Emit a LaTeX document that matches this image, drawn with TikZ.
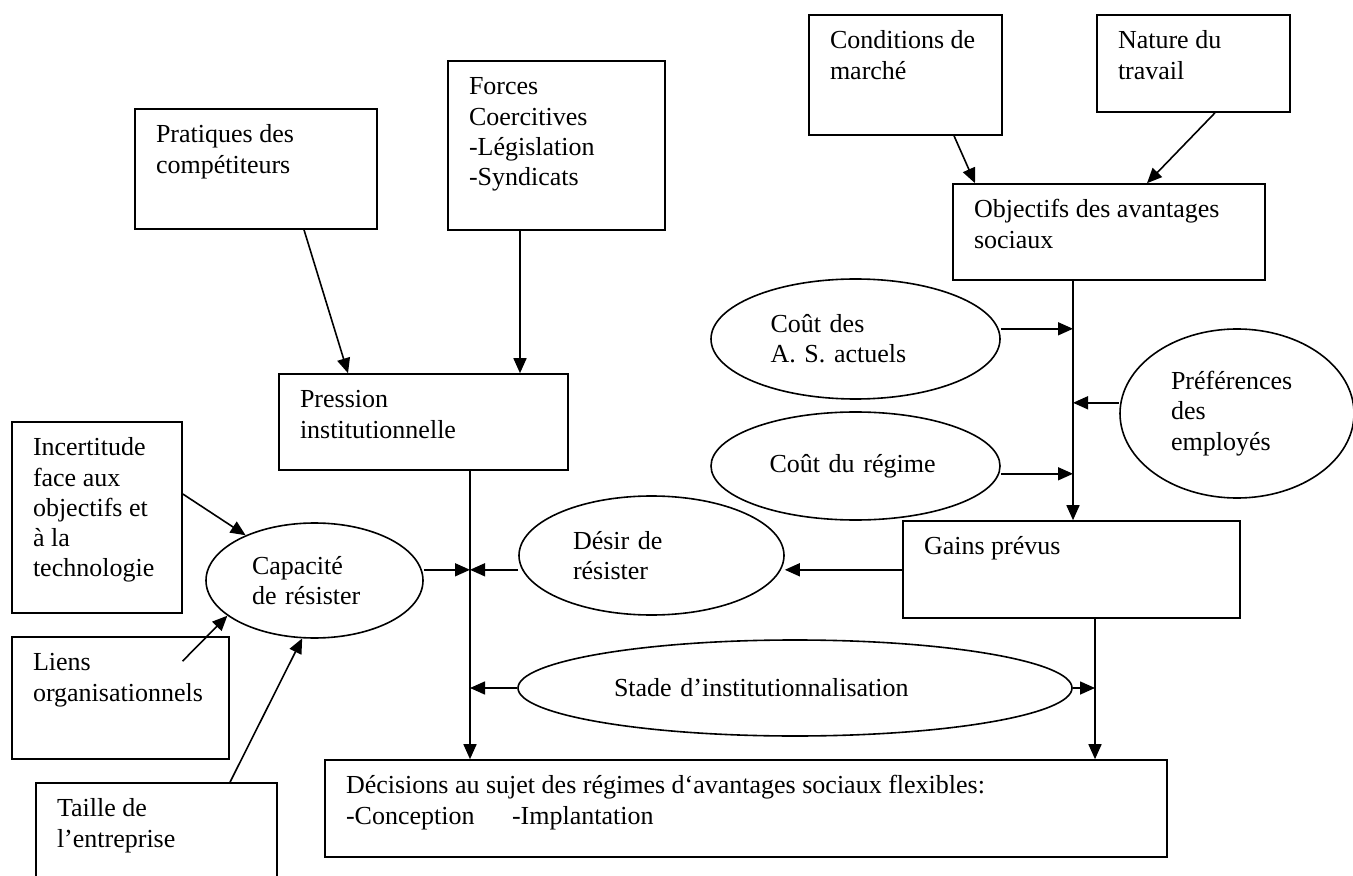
\documentclass[tikz,border=0pt]{standalone}
\usepackage{fontspec}
\setmainfont{Liberation Serif}
\usetikzlibrary{shapes.geometric,arrows.meta,calc}
\newcommand{\boxtxt}[3]{\parbox[c][\dimexpr#2pt/2-12.8pt\relax][t]{\dimexpr#1pt/2-21pt\relax}{\hyphenpenalty=10000\raggedright\strut#3}}
\begin{document}
\begin{tikzpicture}[x=0.5pt,y=-0.5pt,
		every node/.style={font=\fontsize{13pt}{15.1pt}\selectfont},
		box/.style={rectangle,draw,line width=0.8pt,inner xsep=10.5pt,inner ysep=6.4pt},
		ell/.style={ellipse,draw,line width=0.8pt,inner sep=0pt,align=left},
		flow/.style={line width=0.8pt,-{Triangle[length=7.5pt,width=6.5pt]}}]
				\useasboundingbox (0,0) rectangle (1353,876);
				
				\node[box] (prat) at (256,169) {\boxtxt{242}{120}{Pratiques des\\compétiteurs}};
				\node[box] (forces) at (556.5,145.5) {\boxtxt{217}{169}{Forces\\Coercitives\\-Législation\\-Syndicats}};
				\node[box] (cond) at (905.5,75) {\boxtxt{193}{120}{Conditions de\\marché}};
				\node[box] (nature) at (1193.5,63.5) {\boxtxt{193}{97}{Nature du\\travail}};
				\node[box] (objectifs) at (1109,232) {\boxtxt{312}{96}{Objectifs des avantages\\sociaux}};
				\node[box] (pression) at (423.5,422) {\boxtxt{289}{96}{Pression\\institutionnelle}};
				\node[box] (incert) at (97,517.5) {\boxtxt{170}{191}{Incertitude\\face aux\\objectifs et\\à la\\technologie}};
				\node[box] (liens) at (120.5,698) {\boxtxt{217}{122}{Liens\\organisationnels}};
				\node[box] (taille) at (156.5,831.5) {\boxtxt{241}{97}{Taille de\\l’entreprise}};
				\node[box] (gains) at (1071.5,569.5) {\boxtxt{337}{97}{Gains prévus}};
				\node[box] (decis) at (746,808.5) {\boxtxt{842}{97}{Décisions au sujet des régimes d‘avantages sociaux flexibles:\\\makebox[83pt][l]{-Conception}-Implantation}};
				
				\begin{scope}[every node/.append style={ell}]
					\node[minimum width=144.5pt,minimum height=60pt,text width=85pt] (coutas) at (855.5,339) {Coût des\\A. S. actuels};
					\node[minimum width=144.5pt,minimum height=54pt,text width=86pt] (coutreg) at (855.5,466) {Coût du régime};
					\node[minimum width=117pt,minimum height=84.5pt,text width=66pt] (pref) at (1237,413.5) {Préférences\\des\\employés};
					\node[minimum width=108.5pt,minimum height=57.5pt,text width=62.5pt] (capacite) at (314.5,580.5) {Capacité\\de résister};
					\node[minimum width=132.5pt,minimum height=59.5pt,text width=78.5pt] (desir) at (651.5,555.5) {Désir de\\résister};
					\node[minimum width=277pt,minimum height=48pt,text width=181pt] (stade) at (795,688) {Stade d’institutionnalisation};
				\end{scope}
				
				\draw[flow] ($(prat.south)+(48,0)$) -- ($(pression.north)+(-75.5,0)$);
				\draw[flow] ($(forces.south)+(-36.5,0)$) -- ($(pression.north)+(96.5,0)$);
				\draw[flow] ($(cond.south)+(48.5,0)$) -- ($(objectifs.north)+(-134,0)$);
				\draw[flow] ($(nature.south)+(21.5,0)$) -- ($(objectifs.north)+(38,0)$);
				
				\coordinate (trunkR) at ($(objectifs.south)+(-36,0)$);
				\coordinate (jCas) at ($(trunkR)+(0,48)$);
				\coordinate (jPref) at ($(trunkR)+(0,122)$);
				\coordinate (jReg) at ($(trunkR)+(0,193)$);
				\draw[flow] (trunkR) -- (trunkR |- gains.north);
				\draw[flow] (coutas.east |- jCas) -- (jCas);
				\draw[flow] (pref.west |- jPref) -- (jPref);
				\draw[flow] (coutreg.east |- jReg) -- (jReg);
				
				\coordinate (trunkL) at ($(pression.south)+(46.5,0)$);
				\coordinate (jRes) at ($(trunkL)+(0,99)$);
				\draw[flow] (trunkL) -- (trunkL |- decis.north);
				\draw[flow] (capacite.east |- jRes) -- (jRes);
				\draw[flow] (desir.west |- jRes) -- (jRes);
				\draw[flow] (gains.west |- jRes) -- (desir.east |- jRes);
				\draw[flow] (stade.west) -- (stade.west -| trunkL);
				
				\coordinate (trunkG) at ($(gains.south)+(23.5,0)$);
				\draw[flow] (trunkG) -- (trunkG |- decis.north);
				\draw[flow] (stade.east) -- (stade.east -| trunkG);
				
				\draw[flow] ($(incert.east)+(0,-23.5)$) -- (capacite);
				\draw[flow] ($(liens.north)+(62,25)$) -- (capacite.202);
				\draw[flow] ($(taille.north)+(73.5,0)$) -- (capacite.258);
			\end{tikzpicture}
\end{document}
